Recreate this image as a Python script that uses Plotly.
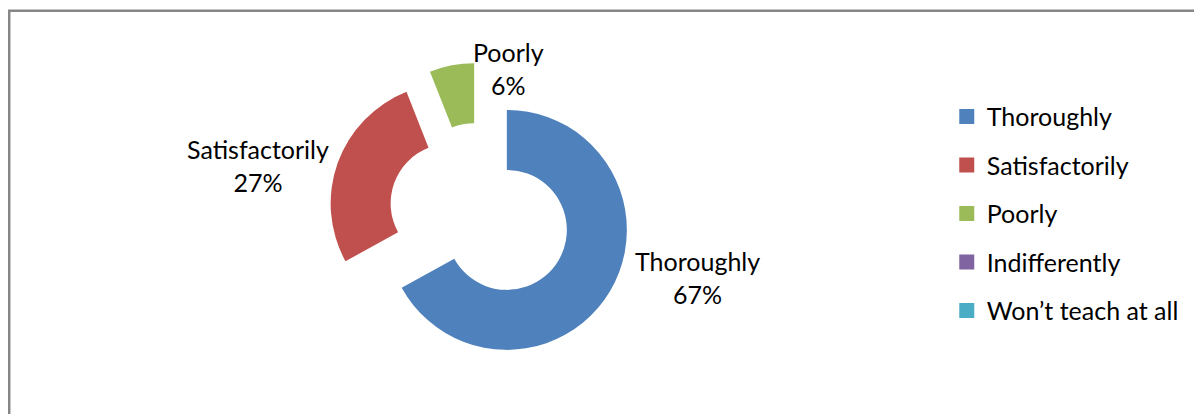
import plotly.graph_objects as go

# survey answers (percent)
labels = ["Thoroughly", "Satisfactorily", "Poorly", "Indifferently", "Won\u2019t teach at all"]
values = [67, 27, 6, 0, 0]
colors = ["#4F81BD", "#C0504D", "#9BBB59", "#8064A2", "#4BACC6"]

font = "Lato"
fsize = 25
W, H = 1202, 414
off = 8  # page body margin

# where each data label sits (pixels in the figure), like the original best-fit placement
label_pos = {"Thoroughly": (697, 277), "Satisfactorily": (258, 166), "Poorly": (508, 69)}

fig = go.Figure()

fig.add_trace(go.Pie(
    labels=labels,
    values=values,
    textinfo="none",
    automargin=False,
    hole=0.5,
    pull=0.26,
    sort=False,
    direction="clockwise",
    rotation=0,
    marker=dict(colors=colors, line=dict(width=0)),
    showlegend=False,
    hoverinfo="label+percent",
    domain=dict(x=[(480 - off - 151.2) / W, (480 - off + 151.2) / W],
                y=[1 - (214 - off + 151.2) / H, 1 - (214 - off - 151.2) / H]),
))

total = sum(values)
for l, v in zip(labels, values):
    if v <= 0:
        continue
    px, py = label_pos[l]
    fig.add_annotation(
        x=(px - off) / W, y=1 - (py - off) / H, xref="paper", yref="paper",
        text=f"{l}<br>{round(100 * v / total)}%", showarrow=False,
        xanchor="center", yanchor="middle", align="center",
        font=dict(family=font, size=fsize, color="#000000"),
    )

# legend entries, one group each so the gap spaces them like the original
for i, (l, c) in enumerate(zip(labels, colors)):
    fig.add_trace(go.Scatter(
        x=[None], y=[None], mode="markers", name=l,
        marker=dict(symbol="square", size=15, color=c),
        legendgroup=f"g{i}",
    ))

fig.update_layout(
    width=W, height=H,
    autosize=False,
    margin=dict(l=0, r=0, t=0, b=0, pad=0, autoexpand=False),
    paper_bgcolor="white", plot_bgcolor="white",
    font=dict(family=font, size=fsize, color="#000000"),
    xaxis=dict(visible=False), yaxis=dict(visible=False),
    legend=dict(x=0.781, y=0.793, xanchor="left", yanchor="top",
                tracegroupgap=13, font=dict(family=font, size=fsize, color="#000000"),
                bgcolor="rgba(0,0,0,0)"),
    shapes=[dict(type="rect", xref="paper", yref="paper",
                 x0=(8 - off) / W + 0.001, x1=1.02, y0=-0.05, y1=1 - (10 - off) / H - 0.002,
                 line=dict(color="#868686", width=2.5))],
)

fig.write_html("out.html")
